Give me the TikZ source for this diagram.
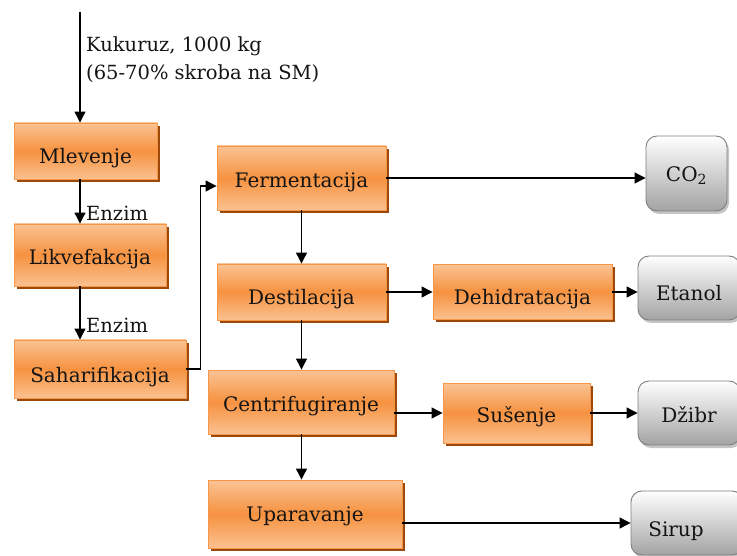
\documentclass[tikz,border=0pt]{standalone}
\usepackage{fontspec}
\setmainfont{DejaVu Serif}
\usetikzlibrary{arrows.meta,shadows}
\definecolor{orLine}{HTML}{F79646}
\definecolor{orTop}{HTML}{FAC394}
\definecolor{orMid}{HTML}{F69240}
\definecolor{orBot}{HTML}{FBC190}
\definecolor{orShadow}{HTML}{9B4A0C}
\definecolor{grLine}{HTML}{7F7F7F}
\definecolor{grBot}{HTML}{A3A3A3}
\definecolor{txt}{HTML}{141414}
\begin{document}
\begin{tikzpicture}[x=1pt,y=-1pt,
  every node/.style={text=txt},
  lbl/.style={font=\fontsize{19.5}{28}\selectfont, inner sep=0pt},
  % text height sets where the baseline sits inside each box
  low/.style={text height=26pt, text depth=0pt},
  mid/.style={text height=19.5pt, text depth=0pt},
  high/.style={text height=15.5pt, text depth=0pt},
  proc/.style={draw=orLine, line width=0.9pt, inner sep=0pt,
    top color=orTop, bottom color=orBot, middle color=orMid,
    drop shadow={shadow xshift=3pt, shadow yshift=-3pt, fill=orShadow, opacity=1},
    font=\fontsize{20}{24}\selectfont},
  prod/.style={draw=grLine, line width=0.9pt, inner sep=0pt, rounded corners=11pt,
    top color=white, bottom color=grBot,
    drop shadow={shadow xshift=2pt, shadow yshift=-3pt, fill=black!45, opacity=0.5},
    font=\fontsize{20}{24}\selectfont},
  flow/.style={line width=1.2pt, -{Triangle[length=11pt,width=11pt]}},
]
\useasboundingbox (0,0) rectangle (737,556);

% process steps
\node[proc, low,  minimum width=143pt, minimum height=56pt] (mlev)  at (85.5,151) {Mlevenje};
\node[proc, mid,  minimum width=152pt, minimum height=62pt] (likv)  at (90,255)   {Likvefakcija};
\node[proc, low,  minimum width=172pt, minimum height=58pt] (sah)   at (100,369)  {Saharifikacija};
\node[proc, mid,  minimum width=169pt, minimum height=64pt] (ferm)  at (301.5,178) {Fermentacija};
\node[proc, low,  minimum width=169pt, minimum height=56pt] (dest)  at (301.5,292) {Destilacija};
\node[proc, mid,  minimum width=186pt, minimum height=64pt] (centr) at (301,402)   {Centrifugiranje};
\node[proc, high, minimum width=194pt, minimum height=68pt] (upar)  at (305,514)   {Uparavanje};
\node[proc, low,  minimum width=179pt, minimum height=55pt] (dehid) at (522.5,292) {Dehidratacija};
\node[proc, mid,  minimum width=147pt, minimum height=60pt] (sus)   at (516.5,413) {Sušenje};

% products
\node[prod, high, minimum width=81pt,  minimum height=75pt] (co2)   at (686.5,173.5) {CO\textsubscript{2}};
\node[prod, low,  minimum width=102pt, minimum height=64pt] (etan)  at (689,288)   {Etanol};
\node[prod, mid,  minimum width=102pt, minimum height=64pt] (dzibr) at (689,413)   {Džibr};
\node[prod, low,  minimum width=112pt, minimum height=64pt] (sirup) at (687,523)   {\hspace*{-22pt}Sirup};

% raw material input
\coordinate (in) at (80,12);
\node[lbl, anchor=north west, align=left] (raw) at (86,36)
  {Kukuruz, 1000 kg\\(65-70\% skroba na SM)};
\draw[flow] (in) -- (in |- mlev.north);

% enzyme additions
\draw[flow] (in |- mlev.south) -- (in |- likv.north);
\node[lbl, anchor=west] (enz1) at (86,213) {Enzim};
\draw[flow] (in |- likv.south) -- (in |- sah.north);
\node[lbl, anchor=west] (enz2) at (86,325) {Enzim};

% main line
\draw[flow] (sah.east) -- ++(14,0) |- ([yshift=-8pt]ferm.west);
\draw[flow] (ferm.east) -- (ferm.east -| co2.west);
\draw[flow] (ferm.south) -- (dest.north);
\draw[flow] (dest.east) -- (dest.east -| dehid.west);
\draw[flow] (dehid.east) -- (dehid.east -| etan.west);
\draw[flow] (dest.south) -- (dest.south |- centr.north);
\draw[flow] ([yshift=-11pt]centr.east) -- ([yshift=-11pt]centr.east -| sus.west);
\draw[flow] ([yshift=-11pt]centr.east -| sus.east) -- ([yshift=-11pt]centr.east -| dzibr.west);
\draw[flow] (dest.south |- centr.south) -- (dest.south |- upar.north);
\draw[flow] ([yshift=-9pt]upar.east) -- ([yshift=-9pt]upar.east -| sirup.west);
\end{tikzpicture}
\end{document}
